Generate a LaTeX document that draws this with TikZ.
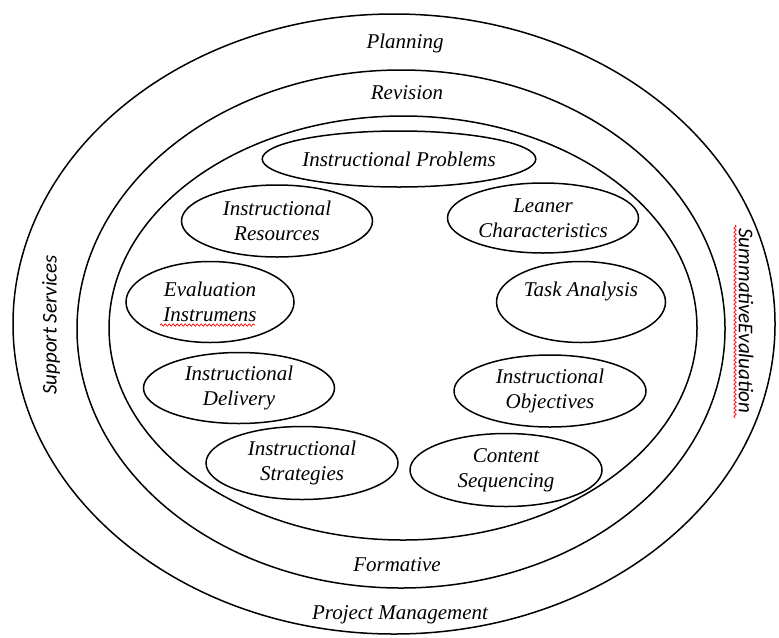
\documentclass[tikz,border=0pt]{standalone}
\usepackage{fontspec}
\setmainfont{Liberation Serif}
\newfontfamily\sidefont{Carlito}
\usetikzlibrary{shapes.geometric,decorations.pathmorphing}
\tikzset{
  ring/.style={line width=0.75pt},
  stage/.style={draw,ellipse,line width=0.75pt,inner sep=0pt,align=center,
    font=\fontsize{10.5}{12.5}\selectfont\itshape},
  ringlabel/.style={font=\fontsize{10.5}{12.5}\selectfont\itshape},
  sidelabel/.style={font=\fontsize{10.5}{12.5}\selectfont\sidefont\itshape},
  spell/.style={red,line width=0.35pt,decorate,
    decoration={snake,amplitude=0.6pt,segment length=2pt}}
}
\begin{document}
\begin{tikzpicture}[x=0.5pt,y=-0.5pt]
\useasboundingbox (0,0) rectangle (779,637);
\draw[ring] (394,324) ellipse (190.5pt and 155pt);
\draw[ring] (401,329) ellipse (162pt and 129.5pt);
\draw[ring] (403,328) ellipse (147pt and 106pt);

\node[ringlabel] (planning) at (405,43) {Planning};
\node[ringlabel] (revision) at (407,93) {Revision};
\node[ringlabel] (formative) at (397,565) {Formative};
\node[ringlabel] (management) at (400,615) {Project Management};
\node[sidelabel,rotate=90] (support) at (51,325) {Support Services};
\node[sidelabel,rotate=-90] (summative) at (746,321) {SummativeEvaluation};

\node[stage,minimum width=123.5pt,minimum height=28pt] (problems) at (399,159) {Instructional Problems};
\node[stage,minimum width=95.5pt,minimum height=36pt] (resources) at (277,221) {Instructional\\Resources};
\node[stage,minimum width=95.5pt,minimum height=35pt] (leaner) at (543,218) {Leaner\\Characteristics};
\node[stage,minimum width=84pt,minimum height=40.5pt] (evaluation) at (210,302) {Evaluation\\Instrumens};
\node[stage,minimum width=84.5pt,minimum height=40.5pt] (task) at (581,302) {Task Analysis\\\phantom{A}};
\node[stage,minimum width=95.5pt,minimum height=35.5pt] (delivery) at (239,388) {Instructional\\Delivery};
\node[stage,minimum width=96pt,minimum height=36pt] (objectives) at (550,391) {Instructional\\Objectives};
\node[stage,minimum width=96pt,minimum height=36.5pt] (strategies) at (302,463) {Instructional\\Strategies};
\node[stage,minimum width=96pt,minimum height=36.5pt] (sequencing) at (506,470) {Content\\Sequencing};

\draw[spell] (160,325) -- (255,325);
\draw[spell] (735,225) -- (735,418);
\end{tikzpicture}
\end{document}
